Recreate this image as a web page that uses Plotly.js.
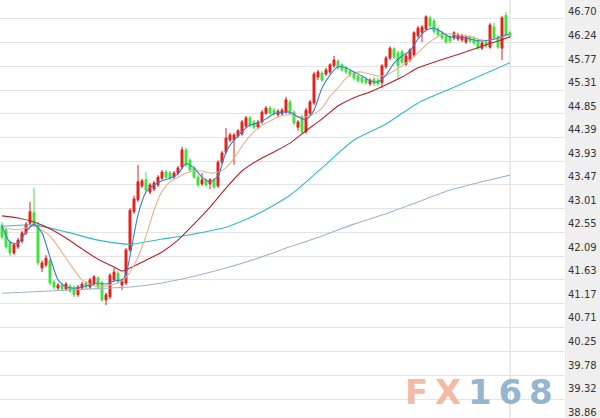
<!DOCTYPE html>
<html>
<head>
<meta charset="utf-8">
<script src="https://cdn.plot.ly/plotly-3.0.1.min.js"></script>
<style>
html,body{margin:0;padding:0;overflow:hidden;background:#efefef;}
#chart{width:600px;height:418px;}
</style>
</head>
<body>
<div id="chart"></div>
<script>
// ---- data ----
const openP = [42.69,42.60,42.36,42.15,42.27,42.38,42.54,42.73,42.93,42.69,
41.86,41.92,42.01,41.59,41.47,41.53,41.45,41.51,41.47,41.34,
41.47,41.57,41.49,41.55,41.67,41.57,41.24,41.30,41.63,41.76,
41.53,41.57,42.21,42.95,43.18,43.45,43.57,43.33,43.39,43.47,
43.60,43.72,43.70,43.62,43.70,43.82,44.15,43.95,43.80,43.62,
43.49,43.57,43.49,43.57,43.45,43.91,44.11,44.34,44.34,44.42,
44.46,44.61,44.77,44.69,44.59,44.69,44.86,44.96,44.92,44.83,
44.85,44.88,45.08,44.88,44.59,44.79,44.50,44.86,45.06,45.56,
45.64,45.62,45.66,45.78,45.87,45.80,45.74,45.68,45.64,45.58,
45.54,45.52,45.43,45.52,45.50,45.45,45.76,45.93,46.11,46.03,
46.05,45.81,45.89,45.99,46.36,46.43,46.49,46.71,46.65,46.49,
46.42,46.36,46.34,46.32,46.30,46.28,46.24,46.34,46.32,46.28,
46.12,46.24,46.14,46.53,46.34,46.12,46.76,46.42];
const highP = [42.75,42.64,42.40,42.34,42.44,42.58,42.75,43.14,43.41,42.75,
42.01,42.11,42.05,41.63,41.57,41.57,41.59,41.55,41.51,41.53,
41.59,41.61,41.67,41.72,41.70,41.61,41.38,41.76,41.86,41.80,
41.65,42.25,43.02,43.26,43.86,43.59,43.72,43.51,43.55,43.66,
43.76,43.76,43.74,43.74,43.84,44.21,44.19,43.99,43.84,43.66,
43.70,43.60,43.60,43.60,43.95,44.13,44.57,44.48,44.48,44.55,
44.73,44.81,44.81,44.73,44.73,44.92,45.00,45.00,44.96,44.94,
44.96,45.18,45.12,44.92,44.73,44.83,44.96,45.12,45.66,45.70,
45.68,45.74,45.83,45.97,45.91,45.83,45.78,45.72,45.68,45.62,
45.58,45.56,45.54,45.56,45.54,45.81,45.97,46.16,46.14,46.07,
46.09,46.01,46.12,46.45,46.55,46.57,46.76,46.75,46.69,46.53,
46.45,46.40,46.38,46.45,46.42,46.40,46.38,46.38,46.36,46.32,
46.26,46.28,46.61,46.61,46.38,46.75,46.82,46.45];
const lowP = [42.42,42.23,42.09,42.11,42.23,42.34,42.50,42.69,42.65,41.90,
41.78,41.88,41.53,41.45,41.43,41.41,41.41,41.38,41.30,41.30,
41.43,41.45,41.45,41.51,41.45,41.20,41.14,41.26,41.59,41.55,
41.43,41.53,42.17,42.91,43.14,43.41,43.33,43.29,43.35,43.43,
43.57,43.59,43.57,43.59,43.66,43.78,43.82,43.72,43.59,43.43,
43.45,43.43,43.39,43.39,43.41,43.88,44.07,44.30,43.86,44.38,
44.42,44.57,44.59,44.55,44.55,44.65,44.83,44.83,44.81,44.79,
44.81,44.85,44.83,44.63,44.52,44.46,44.46,44.83,45.02,45.50,
45.47,45.58,45.62,45.74,45.70,45.66,45.62,45.56,45.50,45.45,
45.43,45.41,45.39,45.39,45.39,45.35,45.72,45.89,45.91,45.50,
45.81,45.78,45.85,45.95,46.32,46.24,46.45,46.51,46.40,46.34,
46.28,46.20,46.22,46.28,46.26,46.24,46.20,46.22,46.18,46.09,
46.09,46.12,46.11,46.28,46.11,45.89,46.34,46.32];
const closeP = [42.46,42.27,42.15,42.31,42.40,42.54,42.71,42.95,42.69,41.96,
41.96,42.05,41.57,41.49,41.53,41.45,41.55,41.41,41.34,41.49,
41.55,41.49,41.63,41.69,41.49,41.24,41.34,41.72,41.78,41.59,
41.61,42.21,42.98,43.20,43.53,43.55,43.37,43.47,43.51,43.62,
43.72,43.62,43.60,43.70,43.80,44.15,43.86,43.76,43.62,43.47,
43.57,43.47,43.57,43.43,43.91,44.09,44.38,44.44,44.44,44.52,
44.69,44.77,44.63,44.59,44.69,44.88,44.96,44.86,44.85,44.90,
44.92,45.12,44.86,44.67,44.69,44.50,44.92,45.08,45.62,45.66,
45.50,45.70,45.80,45.89,45.74,45.70,45.66,45.60,45.54,45.49,
45.47,45.45,45.50,45.43,45.43,45.78,45.93,46.12,45.95,45.78,
45.85,45.97,46.09,46.42,46.51,46.53,46.73,46.55,46.44,46.38,
46.32,46.24,46.26,46.42,46.38,46.36,46.34,46.26,46.22,46.12,
46.22,46.16,46.57,46.32,46.14,46.71,46.38,46.36];

// moving-average lines (values read at sample candles)
const ma5X = [0,2,4,6,8,10,12,14,16,18,20,22,24,26,28,30,31,32,34,36,38,40,42,44,46,48,50,52,54,56,58,60,62,64,66,68,70,72,74,76,78,80,82,84,86,88,90,92,94,96,98,100,102,104,106,108,110,112,114,116,118,120,122,124,126,127];
const ma5Y = [42.67,42.36,42.34,42.56,42.71,42.54,42.07,41.63,41.49,41.47,41.49,41.53,41.57,41.55,41.61,41.63,41.74,42.09,42.89,43.33,43.47,43.55,43.60,43.68,43.88,43.80,43.62,43.53,43.64,44.11,44.34,44.50,44.63,44.67,44.75,44.85,44.88,44.88,44.79,44.73,44.92,45.35,45.60,45.76,45.74,45.66,45.58,45.49,45.47,45.60,45.83,45.97,46.07,46.30,46.47,46.51,46.43,46.34,46.34,46.32,46.28,46.26,46.28,46.32,46.38,46.40];
const ma10X = [0,4,8,12,16,20,24,28,30,32,34,36,38,40,42,44,46,48,50,52,54,56,58,60,62,64,66,68,70,72,74,76,78,80,82,84,86,88,90,92,94,96,98,100,102,104,106,108,110,112,114,116,118,120,122,124,127];
const ma10Y = [42.64,42.60,42.67,42.48,42.05,41.63,41.49,41.55,41.61,41.78,42.07,42.48,42.98,43.35,43.53,43.62,43.70,43.74,43.74,43.70,43.72,43.80,43.99,44.22,44.42,44.57,44.67,44.75,44.81,44.83,44.79,44.79,44.85,44.96,45.19,45.35,45.54,45.64,45.66,45.62,45.58,45.60,45.68,45.78,45.89,46.03,46.18,46.30,46.38,46.40,46.38,46.36,46.32,46.28,46.28,46.32,46.38];
const ma20X = [0,4,8,12,16,20,24,28,30,32,36,40,44,48,52,56,60,64,68,72,76,80,84,88,92,96,100,104,108,112,116,120,124,127];
const ma20Y = [42.87,42.83,42.75,42.62,42.44,42.23,42.03,41.88,41.80,41.86,42.01,42.17,42.40,42.71,43.04,43.41,43.74,43.95,44.11,44.28,44.52,44.75,45.00,45.16,45.27,45.41,45.56,45.74,45.85,45.95,46.05,46.16,46.26,46.34];
const ma60X = [0,8,16,24,32,40,48,56,64,72,80,88,96,104,112,120,127];
const ma60Y = [42.67,42.69,42.56,42.40,42.32,42.42,42.52,42.65,42.91,43.27,43.80,44.34,44.65,45.06,45.33,45.60,45.84];
const ma120X = [0,8,16,24,32,40,48,56,64,72,80,88,96,104,112,120,127];
const ma120Y = [41.37,41.40,41.43,41.46,41.49,41.57,41.70,41.86,42.05,42.27,42.48,42.71,42.91,43.14,43.37,43.53,43.66];

const tickLabels = ["46.70","46.24","45.77","45.31","44.85","44.39","43.93","43.47","43.01","42.55","42.09","41.63","41.17","40.71","40.25","39.78","39.32","38.86"];

// ---- chart ----
const idx = closeP.map((_, i) => i);
const yMin = 38.9516, yMax = 47.0548;

function maLine(x, y, color) {
  return {type:'scatter', mode:'lines', x:x, y:y, line:{color:color, width:1.1, shape:'spline', smoothing:0.6}, hoverinfo:'skip', showlegend:false};
}

const traces = [
  {type:'candlestick', x:idx, open:openP, high:highP, low:lowP, close:closeP,
   increasing:{line:{color:'#e5201c', width:1}, fillcolor:'#e5201c'},
   decreasing:{line:{color:'#3fe23f', width:1}, fillcolor:'#3fe23f'},
   whiskerwidth:0, hoverinfo:'skip', showlegend:false},
  maLine(ma120X, ma120Y, '#9cb6ce'),
  maLine(ma60X, ma60Y, '#2fbcc8'),
  maLine(ma20X, ma20Y, '#b8212b'),
  maLine(ma10X, ma10Y, '#e6b38e'),
  maLine(ma5X, ma5Y, '#3a7ed6')
];

const tickVals = tickLabels.map(Number);
const annotations = tickLabels.map((t, k) => ({
  text: t, xref:'paper', yref:'paper', x:1, y:(tickVals[k]-yMin)/(yMax-yMin),
  xanchor:'left', yanchor:'middle', xshift:2, yshift:6.6 + 0.22*k, showarrow:false, borderpad:0,
  font:{family:'DejaVu Sans', size:10, color:'#333333'}
}));
annotations.push({
  text:'<b><span style="color:#f3b39b">F\u2009X</span>\u2009<span style="color:#8badc9">1\u20096\u20098</span></b>',
  xref:'paper', yref:'paper', x:479/565, y:1-392/418, xanchor:'center', yanchor:'middle',
  showarrow:false, font:{family:'DejaVu Sans', size:34}, opacity:0.9
});

const layout = {
  width:600, height:418,
  margin:{l:0, r:35, t:0, b:0, pad:0},
  paper_bgcolor:'#efefef', plot_bgcolor:'#ffffff',
  showlegend:false,
  xaxis:{range:[-0.5, 140.75], showgrid:false, zeroline:false, showticklabels:false, showline:false, rangeslider:{visible:false}, fixedrange:true},
  yaxis:{range:[yMin, yMax], side:'right', tickmode:'array', tickvals:tickVals, showticklabels:false, ticks:'',
         showgrid:true, gridcolor:'#e4e4e4', gridwidth:1, zeroline:false, showline:false, fixedrange:true},
  shapes:[{type:'line', xref:'x', yref:'paper', x0:idx[idx.length-1], x1:idx[idx.length-1], y0:0, y1:1,
           line:{color:'#d6d6d6', width:1}, layer:'below'}],
  annotations:annotations
};

Plotly.newPlot('chart', traces, layout, {staticPlot:true, displayModeBar:false});
</script>
</body>
</html>
